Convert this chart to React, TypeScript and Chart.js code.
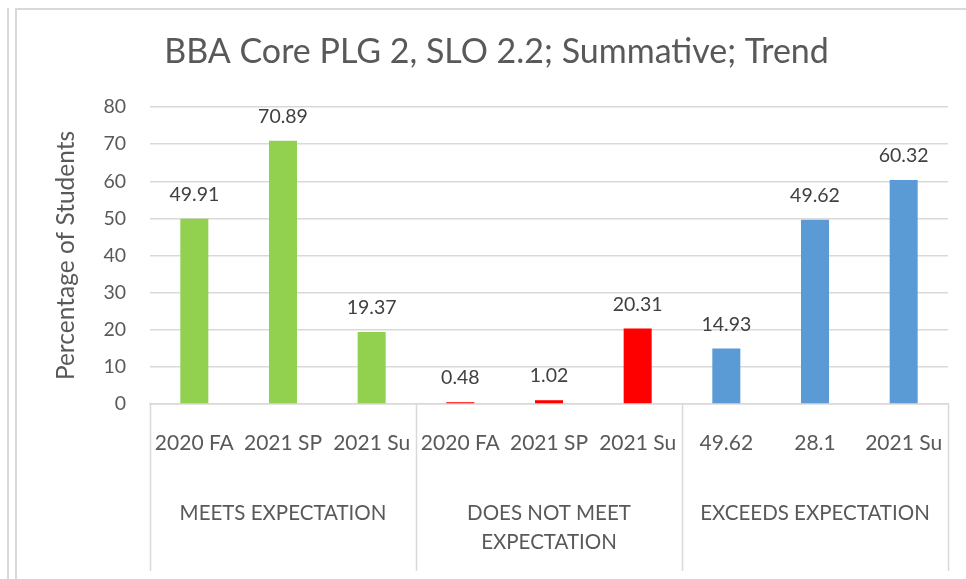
import React, { useEffect, useRef } from "react";
import { Chart, registerables } from "chart.js";

Chart.register(...registerables);

const TITLE = "BBA Core PLG 2, SLO 2.2; Summative; Trend";
const Y_TITLE = "Percentage of Students";
const PERIOD_LABELS = ["2020 FA", "2021 SP", "2021 Su", "2020 FA", "2021 SP", "2021 Su", "49.62", "28.1", "2021 Su"];
const GROUP_LABELS: string[][] = [["MEETS EXPECTATION"], ["DOES NOT MEET", "EXPECTATION"], ["EXCEEDS EXPECTATION"]];
const GROUP_SIZE = 3;
const VALUES = [49.91, 70.89, 19.37, 0.48, 1.02, 20.31, 14.93, 49.62, 60.32];
const BAR_COLORS = ["#92D050", "#92D050", "#92D050", "#FF0000", "#FF0000", "#FF0000", "#5B9BD5", "#5B9BD5", "#5B9BD5"];
const Y_MIN = 0;
const Y_MAX = 80;
const Y_STEP = 10;

const FONT = "Lato, 'Open Sans', sans-serif";
const TEXT = "#595959";
const LINE = "#d9d9d9";

const decorPlugin = {
  id: "decor",
  beforeDraw(chart: any) {
    const ctx = chart.ctx;
    ctx.save();
    ctx.strokeStyle = LINE;
    ctx.lineWidth = 2;
    ctx.beginPath();
    ctx.moveTo(8, 8);
    ctx.lineTo(8, chart.height);
    ctx.moveTo(16, 8);
    ctx.lineTo(16, chart.height);
    ctx.moveTo(15, 9);
    ctx.lineTo(chart.width, 9);
    ctx.stroke();
    // chart title
    ctx.fillStyle = TEXT;
    ctx.font = `34px ${FONT}`;
    ctx.textAlign = "center";
    ctx.textBaseline = "middle";
    ctx.fillText(TITLE, 496.5, 52);
    ctx.restore();
  },
  afterDraw(chart: any) {
    const ctx = chart.ctx;
    const x = chart.scales.x;
    const area = chart.chartArea;
    ctx.save();
    // divider lines of multi-level axis
    ctx.strokeStyle = LINE;
    ctx.lineWidth = 1.5;
    ctx.beginPath();
    const nGroups = GROUP_LABELS.length;
    for (let g = 0; g <= nGroups; g++) {
      const px = Math.round(x.getPixelForValue(g * GROUP_SIZE - 0.5)) + 0.5;
      ctx.moveTo(px, area.bottom);
      ctx.lineTo(px, 571);
    }
    ctx.stroke();
    // period labels
    ctx.fillStyle = TEXT;
    ctx.font = `21px ${FONT}`;
    ctx.textAlign = "center";
    ctx.textBaseline = "middle";
    PERIOD_LABELS.forEach((lab, i) => {
      ctx.fillText(lab, x.getPixelForValue(i), 443);
    });
    // group labels
    ctx.font = `20.5px ${FONT}`;
    GROUP_LABELS.forEach((lines, g) => {
      const cx = (x.getPixelForValue(g * GROUP_SIZE - 0.5) + x.getPixelForValue((g + 1) * GROUP_SIZE - 0.5)) / 2;
      lines.forEach((ln, k) => {
        ctx.fillText(ln, cx, 513 + k * 29);
      });
    });
    // data labels
    const meta = chart.getDatasetMeta(0);
    ctx.font = `19.5px ${FONT}`;
    ctx.fillStyle = "#404040";
    ctx.textBaseline = "alphabetic";
    meta.data.forEach((bar: any, i: number) => {
      ctx.fillText(String(VALUES[i]), bar.x, bar.y - 18);
    });
    ctx.restore();
  },
};

export default function App() {
  const ref = useRef<HTMLCanvasElement>(null);
  useEffect(() => {
    document.body.style.margin = "0";
    const chart = new Chart(ref.current!, {
      type: "bar",
      data: {
        labels: PERIOD_LABELS.map((_, i) => String(i)),
        datasets: [
          {
            data: VALUES,
            backgroundColor: BAR_COLORS,
            borderWidth: 0,
            categoryPercentage: 1,
            barPercentage: 0.316,
          },
        ],
      },
      options: {
        responsive: false,
        animation: false,
        layout: { padding: { left: 0, right: 18, top: 107, bottom: 0 } },
        plugins: {
          legend: { display: false },
          tooltip: { enabled: false },
          title: { display: false },
        },
        scales: {
          x: {
            ticks: { display: false },
            grid: { display: false, drawTicks: false },
            border: { display: true, color: LINE, width: 1.5 },
            afterFit(scale: any) {
              scale.height = 175;
            },
          },
          y: {
            min: Y_MIN,
            max: Y_MAX,
            ticks: {
              stepSize: Y_STEP,
              color: TEXT,
              font: { family: FONT, size: 19.5 },
              padding: 24,
            },
            grid: { color: LINE, lineWidth: 1.5, drawTicks: false },
            border: { display: false },
            title: {
              display: true,
              text: Y_TITLE,
              color: TEXT,
              font: { family: FONT, size: 24.5 },
              padding: { top: 51, bottom: 0 },
            },
            afterFit(scale: any) {
              scale.width = 150;
            },
          },
        },
      },
      plugins: [decorPlugin],
    });
    return () => chart.destroy();
  }, []);
  return (
    <div style={{ width: 966, height: 579 }}>
      <canvas ref={ref} width={966} height={579} />
    </div>
  );
}
